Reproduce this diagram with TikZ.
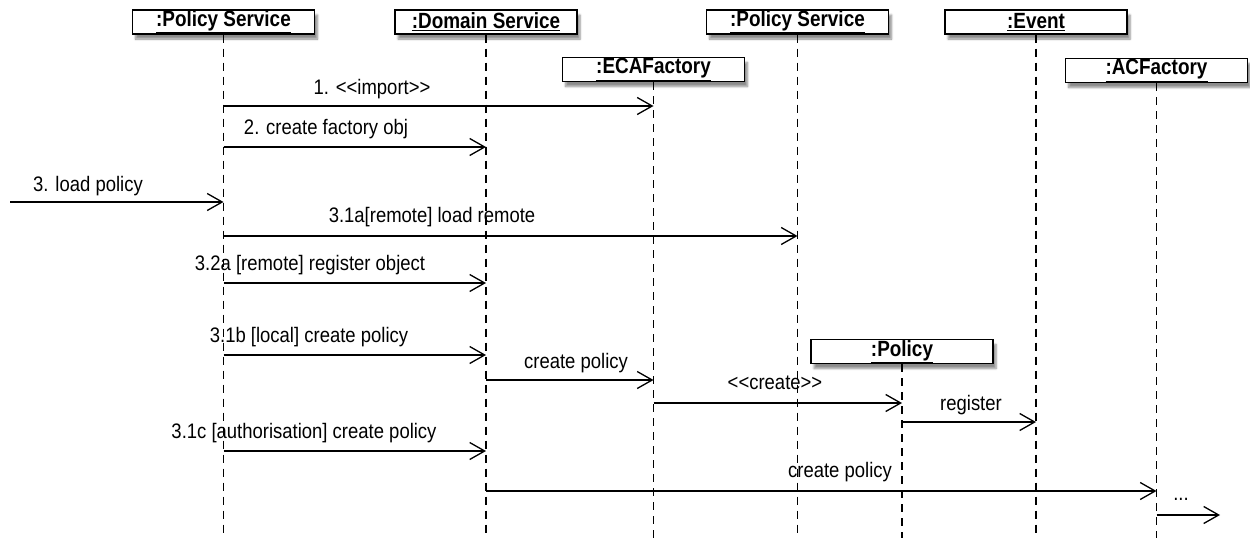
\documentclass[tikz,border=0pt]{standalone}
\usepackage{fontspec}
\setmainfont{Liberation Sans}
\newfontfamily\lblfont[FakeStretch=0.88]{Liberation Sans}
\newfontfamily\objfont[FakeStretch=0.86]{Liberation Sans}
\usetikzlibrary{arrows.meta,shadows.blur,backgrounds}
\tikzset{
  obj/.style={draw=black, line width=1.2pt, fill=white, minimum width=182pt,
    minimum height=24pt, inner sep=0pt,
    font=\objfont\fontsize{22}{24}\selectfont\bfseries,
    blur shadow={shadow xshift=3pt, shadow yshift=-5pt, shadow blur steps=6, shadow opacity=45}},
  life/.style={line width=1.3pt, dash pattern=on 8pt off 6pt},
  msg/.style={line width=1.3pt, -{Straight Barb[length=15pt,width=17pt,line width=1.3pt]}},
  lbl/.style={font=\lblfont\fontsize{21}{23}\selectfont, inner sep=0pt, anchor=base}
}
\newcommand{\ul}[1]{\underline{\smash{#1}\vphantom{x}}}
\begin{document}
\begin{tikzpicture}[x=1pt,y=1pt]
\useasboundingbox (0,0) rectangle (1250,-538);
% objects
\node[obj] (ps1) at (223.5,-22) {\underline{:Policy Service}};
\node[obj] (ds)  at (486,-22) {\underline{:Domain Service}};
\node[obj] (ps2) at (797.5,-22) {\underline{:Policy Service}};
\node[obj] (ev)  at (1036,-22) {\underline{:Event}};
\node[obj] (eca) at (653.5,-69.5) {\underline{:ECAFactory}};
\node[obj] (acf) at (1156.5,-70.5) {\underline{:ACFactory}};
\node[obj] (pol) at (902,-351.5) {\underline{:Policy}};
% lifelines
\coordinate (bot) at (0,-538);
\begin{scope}[on background layer]
\foreach \n in {ps1,ds,ps2,ev,eca,acf,pol}{
  \draw[life] (\n.south) -- (\n.south |- bot);
}
\end{scope}
% free ends
\coordinate (start) at (10,-202);
\coordinate (dotsend) at (1220,-515);
% messages
\draw[msg] (ps1.south |- 0,-106) -- (eca.south |- 0,-106);
\node[lbl] (m1) at (372,-94) {1. <{}<import>{}>};
\draw[msg] (ps1.south |- 0,-147) -- (ds.south |- 0,-147);
\node[lbl] (m2) at (326,-134) {2. create factory obj};
\draw[msg] (start) -- (ps1.south |- start);
\node[lbl] (m3) at (88,-191) {3. load policy};
\draw[msg] (ps1.south |- 0,-236) -- (ps2.south |- 0,-236);
\node[lbl] (m4) at (432,-222) {3.1a[remote] load remote};
\draw[msg] (ps1.south |- 0,-283) -- (ds.south |- 0,-283);
\node[lbl] (m5) at (310,-270) {3.2a [remote] register object};
\draw[msg] (ps1.south |- 0,-355) -- (ds.south |- 0,-355);
\node[lbl] (m6) at (309,-342) {3.1b [local] create policy};
\draw[msg] (ds.south |- 0,-380) -- (eca.south |- 0,-380);
\node[lbl] (m7) at (576,-368) {create policy};
\draw[msg] (eca.south |- 0,-403) -- (pol.south |- 0,-403);
\node[lbl] (m8) at (775,-389) {<{}<create>{}>};
\draw[msg] (pol.south |- 0,-422) -- (ev.south |- 0,-422);
\node[lbl] (m9) at (971,-410) {register};
\draw[msg] (ps1.south |- 0,-451) -- (ds.south |- 0,-451);
\node[lbl] (m10) at (304,-438) {3.1c [authorisation] create policy};
\draw[msg] (ds.south |- 0,-491) -- (acf.south |- 0,-491);
\node[lbl] (m11) at (840,-477) {create policy};
\draw[msg] (acf.south |- dotsend) -- (dotsend);
\node[lbl] (m12) at (1181,-500) {...};
\end{tikzpicture}
\end{document}
